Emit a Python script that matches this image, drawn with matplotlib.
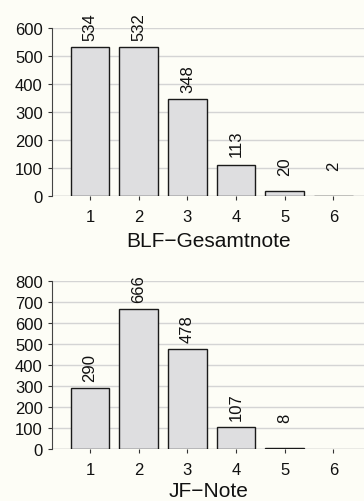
import numpy as np
import matplotlib.pyplot as plt

plt.rcParams['font.family'] = ['Liberation Sans', 'DejaVu Sans']

noten = [1, 2, 3, 4, 5, 6]
blf_counts = [534, 532, 348, 113, 20, 2]
jf_counts = [290, 666, 478, 107, 8, 0]

bg = '#fdfdf6'
fig = plt.figure(figsize=(3.64, 5.02), dpi=100, facecolor=bg)

W, H = 364.0, 502.0
left = 52.5 / W


def panel(y0_px, ytop_px, counts, ymax, xlabel, lpad):
    ax = fig.add_axes([left, 1 - y0_px / H, 1 - left, (y0_px - ytop_px) / H])
    ax.set_facecolor(bg)
    ax.patch.set_alpha(0)
    ax.set_xlim(0.2295, 6.63)
    ax.set_ylim(0, ymax)
    yt = np.arange(0, ymax + 1, 100)
    ax.set_yticks(yt)
    for v in yt:
        ax.axhline(v, color='#d4d4d4' if v else '#a0a0a0', lw=1.0, zorder=0)
    # bars with zero count are not drawn at all
    lws = [1.0 if c > 0 else 0 for c in counts]
    ax.bar(noten, counts, width=0.8, color='#dedee0', edgecolor='#1a1a1a',
           linewidth=lws, zorder=2)
    for x, c in zip(noten, counts):
        if c > 0:
            ax.annotate(str(c), (x, c), xytext=(0, 25), textcoords='offset points',
                        rotation=90, ha='center', va='top', fontsize=12,
                        color='#111111', annotation_clip=False)
    for s in ['top', 'right', 'bottom']:
        ax.spines[s].set_visible(False)
    ax.spines['left'].set_color('#444444')
    ax.spines['left'].set_linewidth(0.8)
    ax.set_xticks(noten)
    ax.tick_params(axis='both', colors='#333333', labelcolor='#111111',
                   labelsize=12, length=3, width=0.8)
    ax.tick_params(axis='x', pad=6.5)
    ax.tick_params(axis='y', pad=4)
    ax.set_xlabel(xlabel, fontsize=15, color='#111111', labelpad=lpad)
    return ax


panel(197.3, 29.3, blf_counts, 600, 'BLF\u2212Gesamtnote', 4.5)
panel(450.3, 281.7, jf_counts, 800, 'JF\u2212Note', 2.5)

fig.savefig('out.png', dpi=100, facecolor=bg)
